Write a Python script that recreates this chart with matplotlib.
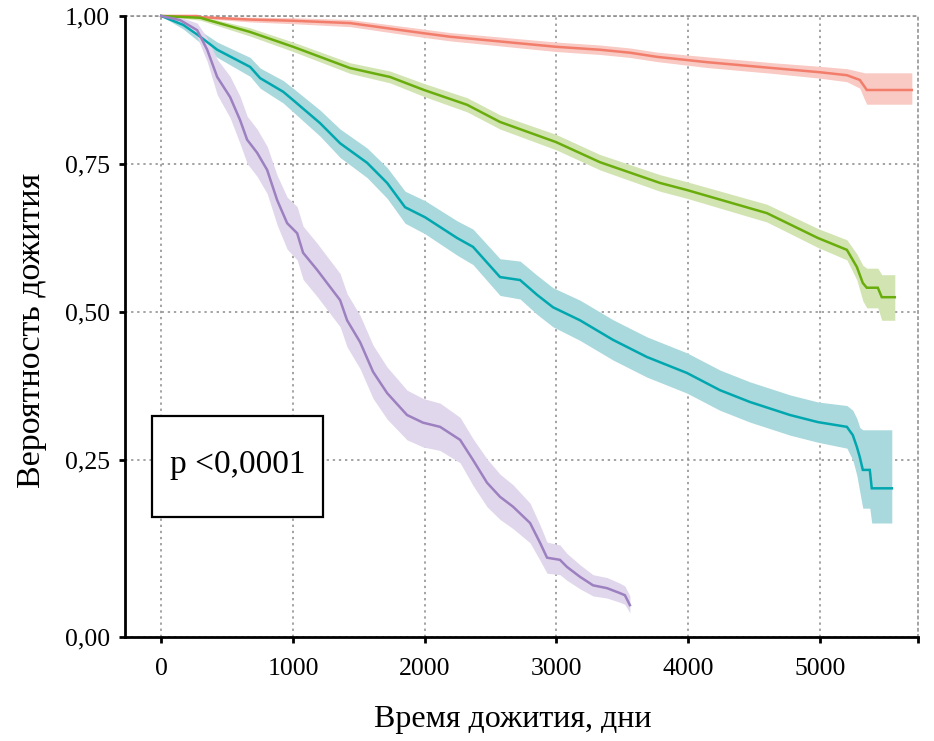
import numpy as np
import matplotlib
matplotlib.use("Agg")
import matplotlib.pyplot as plt
from matplotlib.patches import Rectangle

plt.rcParams['font.family'] = ['Liberation Serif', 'DejaVu Serif']

# ---------------- data ----------------
red_t = [0, 273, 296, 675, 1001, 1434, 1988, 2193, 2997, 3331, 3558, 3763, 4143, 4644, 5000, 5205, 5303, 5341, 5356, 5698]
red_s = [1.0, 1.0, 0.998, 0.994, 0.992, 0.988, 0.971, 0.965, 0.948, 0.943, 0.938, 0.931, 0.922, 0.912, 0.905, 0.900, 0.892, 0.880, 0.875, 0.875]
red_lo = [1.0, 1.0, 0.996, 0.990, 0.987, 0.982, 0.964, 0.958, 0.940, 0.935, 0.930, 0.923, 0.913, 0.903, 0.895, 0.889, 0.878, 0.858, 0.851, 0.851]
red_hi = [1.0, 1.0, 1.0, 0.998, 0.997, 0.994, 0.978, 0.972, 0.956, 0.951, 0.946, 0.939, 0.931, 0.921, 0.915, 0.911, 0.906, 0.904, 0.904, 0.904]

green_t = [0, 296, 675, 1001, 1434, 1737, 1995, 2322, 2572, 2997, 3331, 3786, 3991, 4598, 4985, 5205, 5281, 5326, 5356, 5440, 5470, 5569]
green_s = [1.0, 0.997, 0.973, 0.948, 0.912, 0.897, 0.875, 0.850, 0.821, 0.787, 0.753, 0.718, 0.706, 0.667, 0.625, 0.605, 0.576, 0.549, 0.541, 0.541, 0.525, 0.525]
green_lo = [1.0, 0.993, 0.966, 0.940, 0.903, 0.887, 0.864, 0.838, 0.809, 0.774, 0.740, 0.704, 0.692, 0.652, 0.609, 0.588, 0.554, 0.519, 0.507, 0.507, 0.486, 0.486]
green_hi = [1.0, 1.0, 0.980, 0.956, 0.921, 0.907, 0.886, 0.862, 0.833, 0.800, 0.766, 0.732, 0.720, 0.682, 0.641, 0.622, 0.598, 0.579, 0.574, 0.574, 0.563, 0.563]

teal_t = [0, 167, 296, 425, 675, 751, 926, 1001, 1206, 1358, 1563, 1715, 1851, 2003, 2246, 2367, 2572, 2724, 2853, 2974, 3179, 3429, 3687, 3991, 4241, 4469, 4773, 4985, 5205, 5250, 5281, 5303, 5326, 5379, 5394, 5546]
teal_s = [1.0, 0.985, 0.965, 0.943, 0.914, 0.895, 0.872, 0.858, 0.819, 0.785, 0.752, 0.718, 0.677, 0.660, 0.625, 0.610, 0.559, 0.554, 0.529, 0.508, 0.486, 0.453, 0.424, 0.397, 0.368, 0.348, 0.326, 0.314, 0.306, 0.292, 0.272, 0.255, 0.236, 0.236, 0.210, 0.210]
teal_lo = [1.0, 0.978, 0.955, 0.930, 0.898, 0.878, 0.853, 0.838, 0.797, 0.761, 0.727, 0.692, 0.650, 0.632, 0.596, 0.580, 0.528, 0.522, 0.496, 0.475, 0.452, 0.419, 0.390, 0.363, 0.334, 0.314, 0.292, 0.280, 0.270, 0.250, 0.228, 0.205, 0.182, 0.182, 0.161, 0.161]
teal_hi = [1.0, 0.992, 0.975, 0.956, 0.930, 0.912, 0.891, 0.878, 0.841, 0.809, 0.777, 0.744, 0.704, 0.688, 0.654, 0.640, 0.590, 0.586, 0.562, 0.541, 0.520, 0.487, 0.458, 0.431, 0.402, 0.382, 0.360, 0.348, 0.342, 0.334, 0.320, 0.305, 0.301, 0.301, 0.301, 0.301]

purple_t = [0, 144, 273, 349, 425, 523, 599, 652, 728, 804, 880, 956, 1032, 1077, 1184, 1259, 1358, 1411, 1510, 1608, 1715, 1866, 1988, 2117, 2269, 2367, 2473, 2572, 2671, 2800, 2876, 2929, 3027, 3080, 3179, 3278, 3384, 3482, 3520, 3558]
purple_s = [1.0, 0.993, 0.976, 0.943, 0.897, 0.863, 0.824, 0.791, 0.769, 0.740, 0.689, 0.650, 0.633, 0.600, 0.571, 0.549, 0.520, 0.486, 0.449, 0.399, 0.363, 0.326, 0.313, 0.306, 0.284, 0.250, 0.218, 0.198, 0.184, 0.161, 0.133, 0.112, 0.109, 0.099, 0.085, 0.073, 0.069, 0.062, 0.059, 0.045]
purple_lo = [1.0, 0.988, 0.964, 0.923, 0.867, 0.828, 0.784, 0.751, 0.729, 0.700, 0.647, 0.606, 0.588, 0.555, 0.526, 0.504, 0.475, 0.441, 0.404, 0.354, 0.319, 0.284, 0.272, 0.266, 0.246, 0.214, 0.184, 0.166, 0.153, 0.133, 0.108, 0.090, 0.088, 0.080, 0.068, 0.058, 0.055, 0.049, 0.046, 0.034]
purple_hi = [1.0, 0.998, 0.988, 0.963, 0.927, 0.898, 0.864, 0.831, 0.809, 0.780, 0.731, 0.694, 0.678, 0.645, 0.616, 0.594, 0.565, 0.531, 0.494, 0.444, 0.407, 0.368, 0.354, 0.346, 0.322, 0.286, 0.252, 0.230, 0.215, 0.189, 0.158, 0.134, 0.130, 0.118, 0.102, 0.088, 0.084, 0.076, 0.072, 0.058]

x_ticks = [0, 1000, 2000, 3000, 4000, 5000]
x_ticklabels = ['0', '1000', '2000', '3000', '4000', '5000']
y_ticks = [0.0, 0.25, 0.5, 0.75, 1.0]
y_ticklabels = ['0,00', '0,25', '0,50', '0,75', '1,00']

series = [
    (red_t, red_s, red_lo, red_hi, '#F37D6B', '#F9C9C3'),
    (green_t, green_s, green_lo, green_hi, '#69AD0C', '#D3E4B3'),
    (teal_t, teal_s, teal_lo, teal_hi, '#00A7AE', '#A9D8DD'),
    (purple_t, purple_s, purple_lo, purple_hi, '#9C80C0', '#E1D7EC'),
]

# ---------------- figure ----------------
fig = plt.figure(figsize=(9.34, 7.41), dpi=100)
ax = fig.add_axes([125 / 934, 1 - 637 / 741, (918 - 125) / 934, (637 - 16) / 741])

K = 177.0 / 148.0


def fwd(y):
    y = np.asarray(y, dtype=float)
    return np.where(y >= 0.25, y, 0.25 - (0.25 - y) * K)


def inv(t):
    t = np.asarray(t, dtype=float)
    return np.where(t >= 0.25, t, 0.25 - (0.25 - t) / K)


ax.set_yscale('function', functions=(fwd, inv))

for t, s, lo, hi, lc, fc in series:
    ax.fill_between(t, lo, hi, color=fc, linewidth=0, zorder=2, clip_on=False)
    ax.plot(t, s, color=lc, linewidth=1.8, zorder=3, clip_on=False, solid_joinstyle='miter')

ax.set_xlim(-275, 5745)
ax.set_ylim(0.0, 1.0)

ax.set_xticks(x_ticks)
ax.set_xticklabels(x_ticklabels)
ax.set_xticks([5745], minor=True)
ax.set_yticks(y_ticks)
ax.set_yticklabels(y_ticklabels)

ax.tick_params(axis='both', which='both', direction='out', length=4, width=2,
               color='black', labelsize=18.5, labelcolor='black')
ax.tick_params(axis='x', pad=11)
ax.tick_params(axis='y', pad=7)

ax.grid(True, which='major', color='#8a8a8a', linestyle=(0, (1.5, 2.5)), linewidth=1.1, zorder=1)
ax.set_axisbelow(True)

for side in ['left', 'bottom']:
    ax.spines[side].set_linewidth(2.0)
    ax.spines[side].set_color('black')
    ax.spines[side].set_zorder(5)
for side in ['top', 'right']:
    ax.spines[side].set_color('#8a8a8a')
    ax.spines[side].set_linestyle((0, (1.5, 2.5)))
    ax.spines[side].set_linewidth(1.1)

# p-value box
ax.add_patch(Rectangle((0.034, 0.193), 0.216, 0.163, transform=ax.transAxes,
                       facecolor='white', edgecolor='black', linewidth=1.6, zorder=6))
ax.text(0.142, 0.277, 'p <0,0001', transform=ax.transAxes, ha='center', va='center',
        fontsize=24, zorder=7)

fig.text(513 / 934, 1 - 720 / 741, 'Время дожития, дни', ha='center', va='center', fontsize=23)
fig.text(32 / 934, 1 - 330 / 741, 'Вероятность дожития', ha='center', va='center',
         rotation=90, fontsize=24.5)

fig.savefig('out.png', dpi=100)
